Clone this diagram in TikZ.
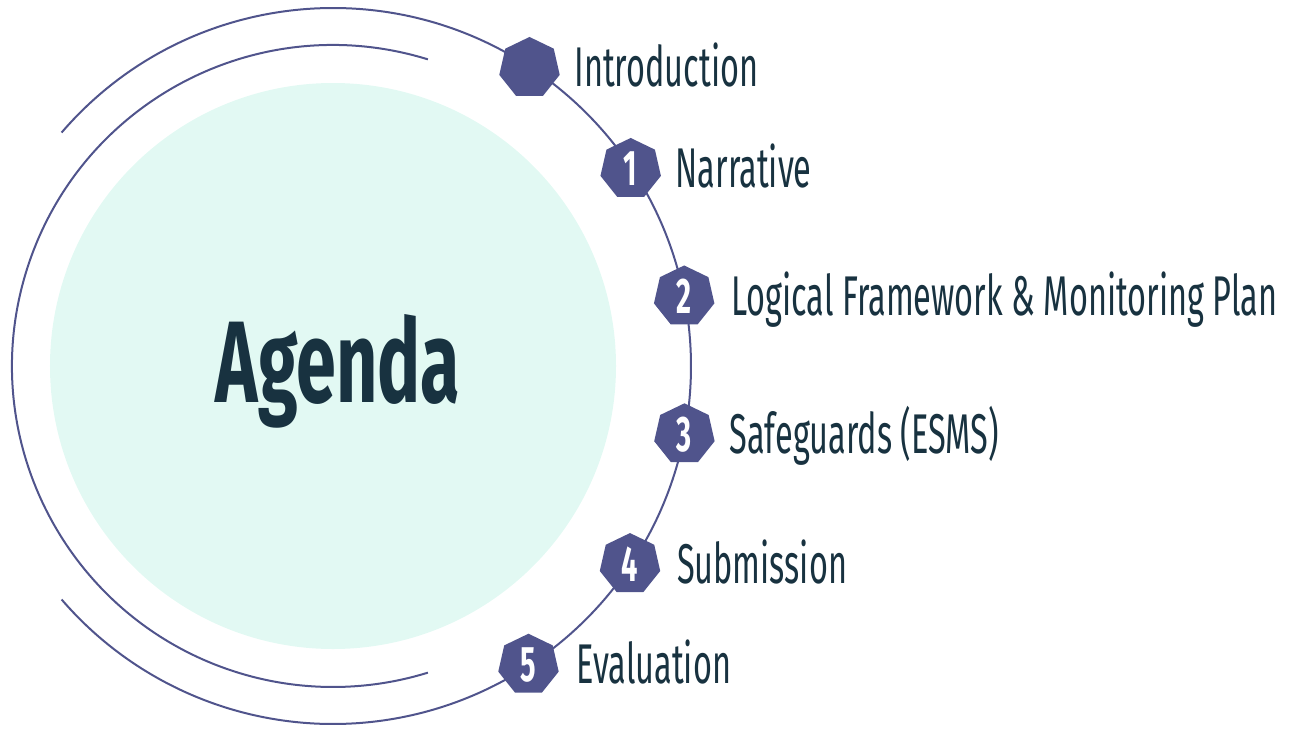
\documentclass[tikz,border=0pt]{standalone}
\usepackage{fontspec}
\setmainfont{Fira Sans}[FakeStretch=0.58]
\newfontfamily\titlefont{Fira Sans}[FakeStretch=0.62]
\usetikzlibrary{shapes.geometric,positioning}

\definecolor{ringPurple}{RGB}{80,84,140}
\definecolor{discMint}{RGB}{226,249,243}
\definecolor{inkTeal}{RGB}{24,50,64}

\tikzset{
  stop/.style = {regular polygon, regular polygon sides=7, fill=ringPurple,
                 minimum size=62pt, inner sep=0pt, text=white,
                 font=\fontsize{50}{50}\selectfont\bfseries},
  topic/.style = {anchor=west, inner sep=0pt, text=inkTeal,
                  text height=38pt, text depth=0pt,
                  font=\fontsize{56}{56}\selectfont},
  ring/.style = {ringPurple, line width=2pt}
}

\begin{document}
\begin{tikzpicture}[x=1pt, y=1pt]

	\useasboundingbox (-333,-363) rectangle (956,366);

	% centre disc
	\fill[discMint] (0,0) circle (283);
	\node[text=inkTeal, anchor=base, inner sep=0pt, font=\titlefont\fontsize{116}{116}\selectfont\bfseries] (title) at (5,-36) {Agenda};

	% rings
	\draw[ring] (139.3:358) arc[start angle=139.3, end angle=-139.3, radius=358];
	\draw[ring] (72.8:321) arc[start angle=72.8, end angle=287.2, radius=321];

	% stops on the outer ring
	\node[stop] (h0) at (56.6:357) {};
	\node[stop] (h1) at (33.5:357) {1};
	\node[stop] (h2) at (11.2:358) {2};
	\node[stop] (h3) at (-11.0:358) {3};
	\node[stop] (h4) at (-33.7:357) {4};
	\node[stop] (h5) at (-56.8:357) {5};

	\node[topic, right=16pt of h0] (t0) {Introduction};
	\node[topic, right=16pt of h1] (t1) {Narrative};
	\node[topic, right=18pt of h2] (t2) {Logical Framework \& Monitoring Plan};
	\node[topic, right=16pt of h3] (t3) {Safeguards (ESMS)};
	\node[topic, right=18pt of h4] (t4) {Submission};
	\node[topic, right=19pt of h5] (t5) {Evaluation};

\end{tikzpicture}
\end{document}
